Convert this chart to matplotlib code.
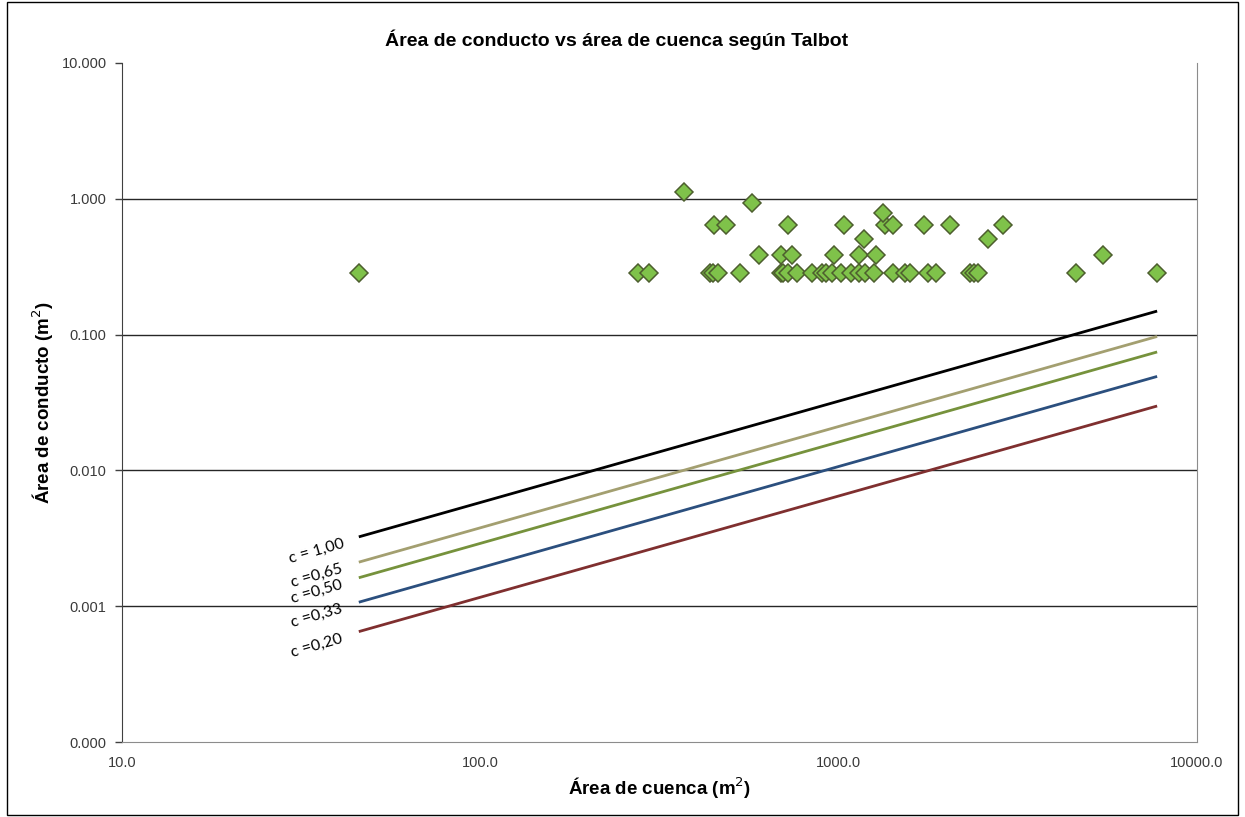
import matplotlib
matplotlib.use("Agg")
import matplotlib.pyplot as plt
from matplotlib.patches import Rectangle
from matplotlib.ticker import FixedLocator, FixedFormatter, NullLocator

# Measured culverts: basin area (m2) and conduit area (m2)
basin_area = [
    45.8, 276, 296, 437, 447, 461, 531, 690, 701, 724, 764, 841, 897, 922, 957,
    1014, 1083, 1136, 1185, 1251, 1421, 1532, 1582, 1780, 1869, 2326, 2387, 2455,
    4601, 7727,
    600, 689, 740, 971, 1143, 1271, 5480,
    1178, 2607,
    449, 485, 724, 1035, 1349, 1421, 1734, 2046, 2866,
    1327,
    574,
    369,
]
conduit_area = [
    0.283, 0.283, 0.283, 0.283, 0.283, 0.283, 0.283, 0.283, 0.283, 0.283, 0.283,
    0.283, 0.283, 0.283, 0.283, 0.283, 0.283, 0.283, 0.283, 0.283, 0.283, 0.283,
    0.283, 0.283, 0.283, 0.283, 0.283, 0.283, 0.283, 0.283,
    0.385, 0.385, 0.385, 0.385, 0.385, 0.385, 0.385,
    0.503, 0.503,
    0.636, 0.636, 0.636, 0.636, 0.636, 0.636, 0.636, 0.636, 0.636,
    0.785,
    0.930,
    1.131,
]

# Talbot curves: end points of each straight line (log-log)
talbot_x = [45.8, 7740]
talbot_labels = ["c = 1,00", "c =0,65", "c =0,50", "c =0,33", "c =0,20"]
talbot_y = [
    [0.00324, 0.149],
    [0.00211, 0.0969],
    [0.00162, 0.0745],
    [0.00107, 0.0492],
    [0.00065, 0.0298],
]
talbot_colors = ["#000000", "#a39f70", "#76923c", "#2b4f7e", "#7f2f2f"]

y_ticks = [0.0001, 0.001, 0.01, 0.1, 1, 10]
y_ticklabels = ["0.000", "0.001", "0.010", "0.100", "1.000", "10.000"]
x_ticks = [10, 100, 1000, 10000]
x_ticklabels = ["10.0", "100.0", "1000.0", "10000.0"]

bold_family = ["Liberation Sans", "DejaVu Sans"]

fig = plt.figure(figsize=(12.45, 8.17), dpi=100)
ax = fig.add_axes([122 / 1245, 1 - 742 / 817, (1197 - 122) / 1245, (742 - 63) / 817])

ax.set_xscale("log")
ax.set_yscale("log")
ax.set_xlim(10, 10000)
ax.set_ylim(0.0001, 10)

# horizontal grid
for yt in y_ticks[1:-1]:
    ax.axhline(yt, color="#262626", lw=1.0, zorder=1)

for ys, lab, col in zip(talbot_y, talbot_labels, talbot_colors):
    ax.plot(talbot_x, ys, color=col, lw=2.0, solid_capstyle="butt", zorder=2)
    ax.annotate(lab, xy=(talbot_x[0], ys[0]), xytext=(-42, -14),
                textcoords="offset pixels", ha="center", va="center",
                rotation=16, rotation_mode="anchor", fontsize=11.5,
                family=["Lato", "DejaVu Sans"], color="#000000")

ax.plot(basin_area, conduit_area, linestyle="none", marker="D", markersize=9.2,
        markerfacecolor="#7fc24a", markeredgecolor="#4d5e2e", markeredgewidth=1.1,
        zorder=3)

ax.xaxis.set_major_locator(FixedLocator(x_ticks))
ax.xaxis.set_major_formatter(FixedFormatter(x_ticklabels))
ax.xaxis.set_minor_locator(NullLocator())
ax.yaxis.set_major_locator(FixedLocator(y_ticks))
ax.yaxis.set_major_formatter(FixedFormatter(y_ticklabels))
ax.yaxis.set_minor_locator(NullLocator())

ax.tick_params(axis="x", length=0, pad=10, labelsize=10.5, labelcolor="#3a3a3a")
ax.tick_params(axis="y", length=5, width=1, color="#404040", pad=6,
               labelsize=10.5, labelcolor="#3a3a3a")
for t in ax.get_xticklabels() + ax.get_yticklabels():
    t.set_family(["Liberation Sans", "DejaVu Sans"])

ax.spines["top"].set_visible(False)
ax.spines["left"].set_color("#404040")
ax.spines["bottom"].set_color("#8c8c8c")
ax.spines["right"].set_color("#8c8c8c")

ax.set_xlabel("Área de cuenca (m$^2$)", fontsize=13.5, fontweight="bold",
              family=bold_family, labelpad=4)
ax.set_ylabel("Área de conducto (m$^2$)", fontsize=13.5, fontweight="bold",
              family=bold_family, labelpad=4)
fig.text(617 / 1245, 1 - 40 / 817, "Área de conducto vs área de cuenca según Talbot",
         ha="center", va="center", fontsize=14, fontweight="bold", family=bold_family)

# outer chart frame
fig.patches.append(Rectangle((7 / 1245, 2 / 817), 1231 / 1245, 813 / 817,
                             transform=fig.transFigure, fill=False,
                             edgecolor="#000000", lw=1.0))

fig.savefig("out.png", dpi=100)
